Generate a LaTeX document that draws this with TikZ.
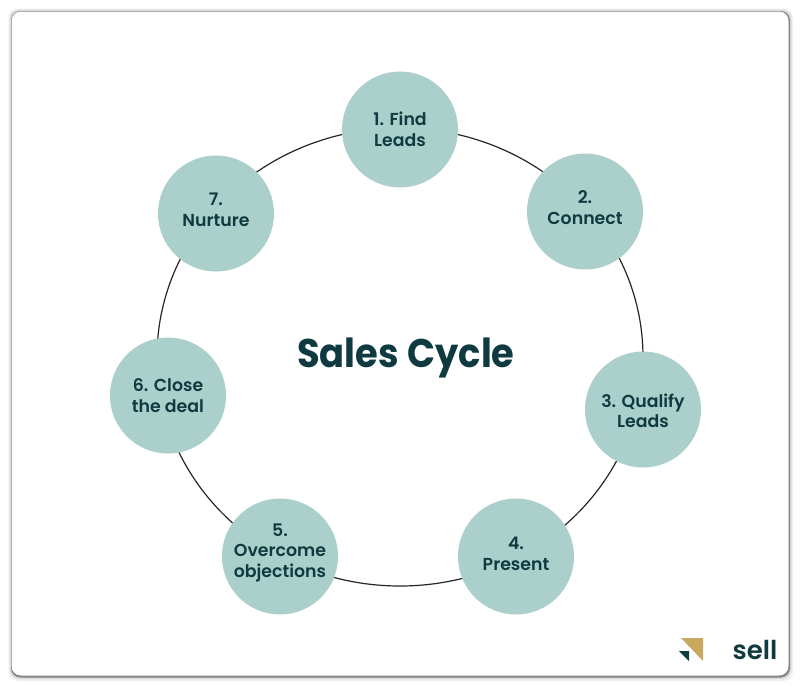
\documentclass[tikz,border=0pt]{standalone}
\usepackage{fontspec}
\setmainfont{Poppins}[BoldFont={Poppins SemiBold}]
\newfontfamily\heavy{Poppins}
\definecolor{teal}{HTML}{ABCFCA}
\definecolor{ink}{HTML}{0F3A40}
\definecolor{gold}{HTML}{C9A95F}
\newcommand\lift[1]{\rule[-#1]{0pt}{#1}}
\tikzset{
  px/.style={x=0.75pt,y=-0.75pt},
  stage/.style={circle,fill=teal,minimum size=87pt,inner sep=0pt,text=ink,align=center,
    font=\fontsize{13pt}{15.6pt}\selectfont\bfseries},
  ring/.style={draw=black!85,line width=0.9pt},
  cardshade/.style={rounded corners=7pt},
}
\begin{document}
\begin{tikzpicture}[px]
\useasboundingbox (0,0) rectangle (800,686);
\fill[white] (0,0) rectangle (800,686);
\fill[cardshade,black!6] (8.5,8.5) rectangle (793,681);
\fill[cardshade,black!14] (9.5,9.5) rectangle (791.5,679);
\fill[cardshade,black!48] (11,11) rectangle (790,677.5);
\fill[cardshade,white] (11.5,11.5) rectangle (788.5,675.5);
\coordinate (hub) at (400,357);
\draw[ring] (hub) ellipse[x radius=182.25pt,y radius=171.75pt];
\node[stage] (s1) at (400,129.5) {1. Find\\Leads};
\node[stage] (s2) at (585,211.5) {2.\\Connect\lift{6pt}};
\node[stage] (s3) at (643,409.5) {\rule{0pt}{12pt}3. Qualify\\Leads};
\node[stage] (s4) at (516,556.5) {4.\\Present\lift{3.75pt}};
\node[stage] (s5) at (280,556.5) {5.\\Overcome\\objections\lift{9pt}};
\node[stage] (s6) at (168,395.5) {6. Close\\the deal};
\node[stage] (s7) at (216,213.5) {7.\\Nurture\lift{6pt}};
\node[text=ink,font=\fontsize{30pt}{36pt}\selectfont\heavy\bfseries] (title) at (406,358) {\scalebox{0.92}[1]{Sales\hspace{7pt}Cycle}};
\fill[gold] (681,638) -- (703,638) -- (703,661) -- cycle;
\fill[ink] (679,651) -- (689,651) -- (689,661) -- cycle;
\node[text=ink,font=\fontsize{19.5pt}{24pt}\selectfont\bfseries] (brand) at (755,650) {sell};
\end{tikzpicture}
\end{document}
